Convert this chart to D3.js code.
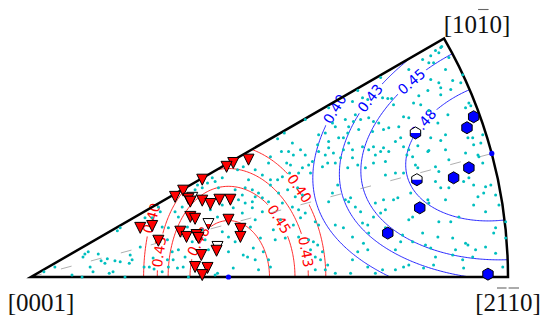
<!DOCTYPE html>
<html><head><meta charset="utf-8">
<script src="https://cdn.jsdelivr.net/npm/d3@7"></script>
<style>body{margin:0;background:#fff}svg{display:block}</style>
</head><body>
<svg id="chart" width="543" height="323"></svg>
<script>
// ---------------- data ----------------
const contourLevels = [0.40, 0.43, 0.45, 0.48];
const sectorAngles = [0, 30];          // fundamental sector, degrees
const guideAngles = [15];              // dashed guide
const poleLabels = [
  {at: [0, 0], parts: [["[0001]", 0]]},
  {at: [0.866, 0.5], parts: [["[10", 0], ["1", 1], ["0]", 0]]},
  {at: [1, 0], parts: [["[2", 0], ["1", 1], ["1", 1], ["0]", 0]]}
];
const basalLabelLevels = [0.40, 0.43, 0.48, 0.45, 0.43, 0.40];
const basalLabelSeeds = [[0.250,0.124],[0.267,0.053],[0.344,0.078],[0.519,0.120],[0.578,0.053],[0.565,0.187]];
const prismLabelLevels = [0.40, 0.43, 0.45, 0.48];
const prismLabelSeeds = [[0.632,0.355],[0.712,0.374],[0.800,0.407],[0.825,0.321]];

const grainDirections = [
[0.027,0.011],[0.050,0.021],[0.086,0.004],[0.107,0.000],[0.109,0.042],[0.113,0.048],[0.120,0.053],[0.141,0.048],[0.124,0.021],[0.130,0.011],[0.147,0.034],[0.155,0.029],[0.160,0.038],[0.164,0.008],[0.172,0.011],[0.176,0.034],[0.187,0.032],[0.197,0.000],[0.208,0.046],[0.206,0.029],[0.212,0.036],[0.229,0.063],[0.237,0.021],[0.248,0.021],[0.256,0.040],[0.187,0.103],[0.181,0.097],[0.239,0.124],[0.254,0.124],[0.267,0.147],[0.258,0.017],
[0.517,0.290],[0.531,0.302],[0.525,0.263],[0.502,0.252],[0.536,0.239],[0.498,0.239],[0.470,0.225],[0.485,0.214],[0.502,0.204],[0.517,0.204],[0.527,0.210],[0.502,0.193],[0.456,0.204],[0.445,0.231],[0.433,0.225],[0.401,0.208],[0.386,0.200],[0.393,0.187],[0.380,0.208],[0.370,0.197],[0.359,0.187],[0.344,0.183],[0.349,0.193],[0.428,0.183],[0.449,0.187],[0.464,0.183],[0.477,0.176],[0.470,0.168],[0.443,0.172],[0.464,0.158],[0.485,0.166],[0.498,0.158],[0.519,0.176],[0.538,0.183],[0.527,0.155],[0.449,0.155],[0.435,0.162],[0.464,0.145],[0.485,0.137],[0.523,0.120],[0.443,0.134],[0.470,0.120],[0.460,0.105],[0.481,0.082],[0.508,0.099],[0.533,0.082],[0.512,0.078],[0.466,0.061],[0.445,0.046],[0.454,0.042],[0.487,0.053],[0.470,0.036],[0.498,0.036],[0.502,0.021],[0.477,0.015],[0.424,0.019],[0.391,0.008],[0.330,0.000],[0.319,0.021],[0.307,0.019],[0.298,0.036],[0.286,0.036],[0.296,0.053],[0.309,0.057],[0.323,0.042],[0.288,0.021],[0.275,0.011],[0.275,0.105],[0.288,0.103],[0.271,0.137],[0.302,0.137],[0.309,0.126],[0.317,0.147],[0.328,0.105],[0.359,0.099],[0.365,0.078],[0.338,0.074],[0.286,0.078],[0.372,0.057],[0.414,0.053],[0.414,0.084],[0.428,0.074],[0.401,0.095],[0.391,0.126],[0.376,0.141],[0.401,0.151],[0.424,0.145],[0.386,0.004],
[0.685,0.391],[0.674,0.368],[0.695,0.376],[0.706,0.372],[0.737,0.376],[0.748,0.374],[0.756,0.374],[0.760,0.361],[0.781,0.336],[0.792,0.334],[0.771,0.315],[0.750,0.313],[0.739,0.309],[0.729,0.323],[0.718,0.326],[0.708,0.334],[0.691,0.330],[0.680,0.340],[0.676,0.326],[0.666,0.315],[0.664,0.302],[0.655,0.292],[0.666,0.281],[0.638,0.315],[0.632,0.323],[0.645,0.292],[0.624,0.284],[0.617,0.302],[0.624,0.271],[0.603,0.298],[0.601,0.277],[0.603,0.263],[0.617,0.256],[0.634,0.260],[0.649,0.250],[0.655,0.267],[0.674,0.267],[0.695,0.273],[0.708,0.267],[0.718,0.273],[0.739,0.271],[0.733,0.263],[0.750,0.263],[0.764,0.284],[0.775,0.292],[0.781,0.273],[0.788,0.256],[0.743,0.242],[0.718,0.239],[0.701,0.229],[0.685,0.235],[0.664,0.229],[0.638,0.239],[0.622,0.239],[0.590,0.242],[0.575,0.256],[0.565,0.267],[0.548,0.281],[0.540,0.263],[0.550,0.256],[0.569,0.229],[0.544,0.235],[0.582,0.235],[0.611,0.231],[0.586,0.218],[0.561,0.218],[0.542,0.218],[0.716,0.305],[0.722,0.256],[0.687,0.309],[0.674,0.250],[0.659,0.330],[0.575,0.330],[0.733,0.418],[0.624,0.355],
[0.559,0.187],[0.569,0.172],[0.554,0.168],[0.548,0.147],[0.561,0.141],[0.575,0.134],[0.565,0.124],[0.550,0.109],[0.561,0.084],[0.582,0.078],[0.592,0.074],[0.601,0.067],[0.586,0.057],[0.596,0.042],[0.607,0.036],[0.596,0.015],[0.617,0.015],[0.622,0.025],[0.611,0.053],[0.603,0.109],[0.596,0.116],[0.624,0.158],[0.632,0.176],[0.643,0.193],[0.659,0.162],[0.666,0.158],[0.670,0.166],[0.680,0.147],[0.691,0.137],[0.638,0.109],[0.655,0.103],[0.674,0.084],[0.685,0.053],[0.695,0.113],[0.706,0.109],[0.708,0.092],[0.697,0.071],[0.706,0.057],[0.722,0.155],[0.718,0.126],[0.733,0.134],[0.743,0.141],[0.743,0.103],[0.764,0.057],[0.775,0.074],[0.779,0.088],[0.760,0.162],[0.769,0.166],[0.781,0.218],[0.743,0.214],[0.764,0.218],[0.739,0.162],[0.674,0.036],[0.706,0.021],[0.737,0.015],[0.764,0.015],[0.781,0.021],[0.722,0.008],[0.638,0.008],[0.670,0.008],
[0.848,0.475],[0.859,0.481],[0.838,0.464],[0.844,0.449],[0.834,0.449],[0.821,0.456],[0.876,0.460],[0.869,0.435],[0.855,0.407],[0.838,0.414],[0.884,0.412],[0.901,0.407],[0.880,0.393],[0.859,0.397],[0.859,0.382],[0.832,0.391],[0.813,0.380],[0.792,0.435],[0.817,0.361],[0.802,0.365],[0.905,0.424],[0.918,0.365],[0.911,0.355],[0.922,0.359],[0.874,0.340],[0.834,0.349],[0.853,0.323],[0.918,0.307],[0.926,0.292],[0.928,0.277],[0.916,0.292],[0.947,0.298],[0.943,0.281],[0.869,0.298],[0.859,0.286],[0.838,0.292],[0.811,0.275],[0.834,0.265],[0.869,0.267],[0.911,0.260],[0.937,0.256],[0.792,0.267],[0.861,0.483],[0.855,0.470],
[0.832,0.263],[0.806,0.235],[0.811,0.229],[0.800,0.252],[0.848,0.231],[0.876,0.246],[0.939,0.252],[0.947,0.239],[0.855,0.221],[0.907,0.200],[0.918,0.208],[0.928,0.193],[0.953,0.189],[0.964,0.193],[0.974,0.172],[0.981,0.151],[0.949,0.176],[0.937,0.168],[0.876,0.187],[0.859,0.187],[0.848,0.200],[0.796,0.176],[0.832,0.162],[0.869,0.162],[0.834,0.155],[0.800,0.126],[0.792,0.120],[0.928,0.151],[0.953,0.137],[0.855,0.116],[0.880,0.116],[0.897,0.126],[0.974,0.103],[0.995,0.082],[0.970,0.092],[0.821,0.092],[0.853,0.084],[0.884,0.082],[0.911,0.071],[0.916,0.067],[0.800,0.074],[0.827,0.067],[0.838,0.061],[0.890,0.057],[0.932,0.057],[0.953,0.063],[0.974,0.050],[0.848,0.042],[0.884,0.046],[0.905,0.036],[0.926,0.042],[0.989,0.021],[0.844,0.025],[0.823,0.019],[0.907,0.019],[0.792,0.025],[0.995,0.116]
];

const basalMarkers = [[0.456,0.246],[0.424,0.239],[0.410,0.231],[0.359,0.204],[0.319,0.181],[0.302,0.168],[0.330,0.164],[0.334,0.158],[0.359,0.160],[0.376,0.153],[0.395,0.162],[0.418,0.162],[0.334,0.126],[0.344,0.122],[0.414,0.120],[0.229,0.103],[0.254,0.107],[0.267,0.076],[0.313,0.095],[0.326,0.084],[0.347,0.088],[0.351,0.082],[0.439,0.101],[0.439,0.084],[0.389,0.055],[0.357,0.046],[0.344,0.021],[0.370,0.019],[0.359,0.004]];
const basalHalfMarkers = [[0.338,0.166],[0.372,0.111],[0.391,0.063]];
const prismMarkers = [[0.928,0.336],[0.914,0.313],[0.918,0.229],[0.886,0.208],[0.815,0.145],[0.748,0.092],[0.958,0.006]];
const prismHalfMarkers = [[0.806,0.302],[0.809,0.204]];
const schmidMaxima = [[0.414,0.000],[0.966,0.259]];

// ---------------- crystallography (hcp slip systems) ----------------
const DEG = Math.PI / 180;
const basalDirections = [0, 60, 120];     // <11-20> azimuths
const prismNormals = [30, 90, 150];       // {10-10} normal azimuths
function polar(u, v) { return {th: 2 * Math.atan(Math.hypot(u, v)), ps: Math.atan2(v, u)}; }
function basalSF(u, v) {
  const {th, ps} = polar(u, v);
  return Math.abs(Math.cos(th) * Math.sin(th)) * d3.max(basalDirections, d => Math.abs(Math.cos(ps - d * DEG)));
}
function prismSF(u, v) {
  const {th, ps} = polar(u, v);
  const s2 = Math.sin(th) ** 2;
  return s2 * d3.max(prismNormals, a => Math.abs(Math.cos(ps - a * DEG) * Math.sin(ps - a * DEG)));
}

// ---------------- chart ----------------
const W = 543, H = 323;
const svg = d3.select("#chart");
const x = d3.scaleLinear().domain([0, 1]).range([31, 508]);
const y = d3.scaleLinear().domain([0, 1]).range([277, -200]);
const R = x(1) - x(0);
const a0 = sectorAngles[0] * DEG, a1 = sectorAngles[1] * DEG;
const sectorD = `M${x(0)},${y(0)}L${x(Math.cos(a0))},${y(Math.sin(a0))}A${R},${R} 0 0 0 ${x(Math.cos(a1))},${y(Math.sin(a1))}Z`;

const defs = svg.append("defs");
defs.append("clipPath").attr("id", "sectorClip").append("path").attr("d", sectorD);
const mask = defs.append("mask").attr("id", "labelGap").attr("maskUnits", "userSpaceOnUse")
  .attr("x", 0).attr("y", 0).attr("width", W).attr("height", H);
mask.append("rect").attr("width", W).attr("height", H).attr("fill", "#fff");

// grid for the contour generator
const u0 = -0.2, u1 = 1.3, v0 = -0.25, v1 = 0.8, nx = 480, ny = 340;
const du = (u1 - u0) / (nx - 1), dv = (v1 - v0) / (ny - 1);
function grid(f) {
  const vals = new Float64Array(nx * ny);
  for (let j = 0; j < ny; j++) for (let i = 0; i < nx; i++) vals[j * nx + i] = f(u0 + i * du, v0 + j * dv);
  return vals;
}
const gridProj = d3.geoTransform({point(gx, gy) { this.stream.point(x(u0 + (gx - 0.5) * du), y(v0 + (gy - 0.5) * dv)); }});
const gridPath = d3.geoPath(gridProj);
const contourGen = d3.contours().size([nx, ny]).thresholds(contourLevels);

const contourLayer = svg.append("g").attr("clip-path", "url(#sectorClip)")
  .append("g").attr("mask", "url(#labelGap)");
const labelLayer = svg.append("g").attr("font-family", "DejaVu Sans").attr("font-size", 14);
const fmt = d3.format(".2f");

function grad(f, u, v) {
  const h = 1e-5;
  return [(f(u + h, v) - f(u - h, v)) / (2 * h), (f(u, v + h) - f(u, v - h)) / (2 * h)];
}
function snap(f, L, p) {
  let [u, v] = p;
  for (let k = 0; k < 30; k++) {
    const [fu, fv] = grad(f, u, v);
    const d = (f(u, v) - L) / (fu * fu + fv * fv);
    u -= d * fu; v -= d * fv;
  }
  return [u, v];
}

function drawField(f, color, levels, seeds) {
  const cs = contourGen(grid(f));
  contourLayer.append("g").selectAll("path").data(cs).join("path")
    .attr("d", gridPath).attr("fill", "none").attr("stroke", color).attr("stroke-width", 0.85);
  levels.forEach((L, i) => {
    const [u, v] = snap(f, L, seeds[i]);
    const [fu, fv] = grad(f, u, v);
    let ang = Math.atan2(fu, fv) * 180 / Math.PI;
    if (ang > 90) ang -= 180;
    if (ang < -90) ang += 180;
    const tf = `translate(${x(u)},${y(v)}) rotate(${ang})`;
    const t = labelLayer.append("text").attr("transform", tf)
      .attr("text-anchor", "middle").attr("dominant-baseline", "central")
      .attr("fill", color).text(fmt(L));
    const w = t.node().getComputedTextLength();
    mask.append("rect").attr("transform", tf).attr("x", -w / 2 - 3).attr("y", -6)
      .attr("width", w + 6).attr("height", 12).attr("fill", "#000");
  });
}
drawField(basalSF, "#ff0000", basalLabelLevels, basalLabelSeeds);
drawField(prismSF, "#0000ff", prismLabelLevels, prismLabelSeeds);

// guide line
svg.append("g").selectAll("line").data(guideAngles).join("line")
  .attr("x1", x(0)).attr("y1", y(0))
  .attr("x2", d => x(Math.cos(d * DEG))).attr("y2", d => y(Math.sin(d * DEG)))
  .attr("stroke", "#9a9a9a").attr("stroke-width", 0.8).attr("stroke-dasharray", "11,20");

// frame
svg.append("path").attr("d", sectorD).attr("fill", "none").attr("stroke", "#000")
  .attr("stroke-width", 2.5).attr("stroke-linejoin", "miter");

// grain orientations
svg.append("g").selectAll("circle").data(grainDirections).join("circle")
  .attr("cx", d => x(d[0])).attr("cy", d => y(d[1])).attr("r", 1.5).attr("fill", "#00bfbf");

// markers
const tri = "M-5.5,-5.5L5.5,-5.5L0,5.5Z";
const triBottom = "M-2.75,0L2.75,0L0,5.5Z";
const hs = 6, hc = hs * Math.cos(30 * DEG);
const hex = `M0,${-hs}L${hc},${-hs/2}L${hc},${hs/2}L0,${hs}L${-hc},${hs/2}L${-hc},${-hs/2}Z`;
const hexBottom = `M${hc},0L${hc},${hs/2}L0,${hs}L${-hc},${hs/2}L${-hc},0Z`;

function halfMarkers(data, shape, bottom, color) {
  const g = svg.append("g").selectAll("g").data(data).join("g")
    .attr("transform", d => `translate(${x(d[0])},${y(d[1])})`);
  g.append("path").attr("d", shape).attr("fill", "#fff");
  g.append("path").attr("d", bottom).attr("fill", color);
  g.append("path").attr("d", shape).attr("fill", "none").attr("stroke", "#000").attr("stroke-width", 1);
}
halfMarkers(basalHalfMarkers, tri, triBottom, "#ff0000");
svg.append("g").selectAll("path").data(basalMarkers).join("path")
  .attr("transform", d => `translate(${x(d[0])},${y(d[1])})`)
  .attr("d", tri).attr("fill", "#ff0000").attr("stroke", "#000").attr("stroke-width", 1);
svg.append("g").selectAll("path").data(prismMarkers).join("path")
  .attr("transform", d => `translate(${x(d[0])},${y(d[1])})`)
  .attr("d", hex).attr("fill", "#0000ff").attr("stroke", "#000").attr("stroke-width", 1);
halfMarkers(prismHalfMarkers, hex, hexBottom, "#0000ff");

svg.append("g").selectAll("circle").data(schmidMaxima).join("circle")
  .attr("cx", d => x(d[0])).attr("cy", d => y(d[1])).attr("r", 2.6).attr("fill", "#0000ff");

// pole labels (Miller-Bravais indices, overbar = negative index)
const poleOffsets = [[10, 34], [33, -6], [0, 34]];
const pl = svg.append("g").attr("font-family", "Liberation Serif").attr("font-size", 25).attr("fill", "#111");
poleLabels.forEach((p, i) => {
  const bx = x(p.at[0]) + poleOffsets[i][0], by = y(p.at[1]) + poleOffsets[i][1];
  const t = pl.append("text").attr("x", bx).attr("y", by).attr("text-anchor", "middle");
  p.parts.forEach(([s]) => t.append("tspan").text(s));
  const node = t.node();
  let idx = 0;
  p.parts.forEach(([s, over]) => {
    if (over) {
      for (let k = 0; k < s.length; k++) {
        const st = node.getStartPositionOfChar(idx + k), en = node.getEndPositionOfChar(idx + k);
        pl.append("line").attr("x1", st.x + 1).attr("x2", en.x - 1)
          .attr("y1", by - 23).attr("y2", by - 23)
          .attr("stroke", "#666").attr("stroke-width", 1.1);
      }
    }
    idx += s.length;
  });
});
</script>
</body></html>
